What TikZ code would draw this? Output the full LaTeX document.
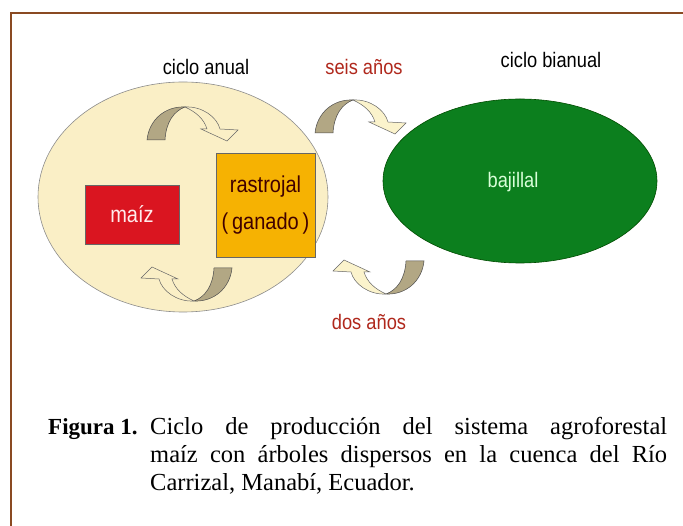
\documentclass[tikz,border=0pt]{standalone}
\usepackage{fontspec}
\setmainfont{Liberation Serif}
\setsansfont{Liberation Sans}
\newfontfamily\estrecha[FakeStretch=0.87]{Liberation Sans}
\definecolor{marco}{HTML}{8A4A22}
\definecolor{anual}{HTML}{FAEFC6}
\definecolor{crema}{HTML}{FBF3CC}
\definecolor{pardo}{HTML}{B2A784}
\definecolor{monte}{HTML}{0C7F1E}
\definecolor{maizrojo}{HTML}{DA1520}
\definecolor{rastrojo}{HTML}{F6B202}
\definecolor{rotulo}{HTML}{B0281C}
\begin{document}
\begin{tikzpicture}[x=1pt, y=-1pt,
  rotul/.style={font=\estrecha\fontsize{21}{24}\selectfont, inner sep=0pt},
  cajon/.style={draw=black!60, line width=0.4pt, inner sep=0pt, font=\estrecha\fontsize{23}{26}\selectfont},
  pie/.style={anchor=base west, inner sep=0pt, font=\fontsize{24.5}{27}\selectfont},
  tanpart/.style={fill=pardo, draw=black!70, line width=0.5pt},
  litepart/.style={draw=black!60, line width=0.5pt}]
\clip (0,0) rectangle (683,526);
\fill[white] (0,0) rectangle (683,526);
\draw[marco, line width=2pt] (11,530) -- (11,13) -- (690,13);
\pgfmathsetmacro{\anualx}{183}
\pgfmathsetmacro{\anualy}{197}
\fill[anual, draw=black!45, line width=0.6pt] (\anualx,\anualy) ellipse [x radius=145, y radius=115];
\fill[monte, draw=black!70!green, line width=0.6pt] (520,181) ellipse [x radius=137, y radius=82];
\foreach \px/\py/\rot/\lite in {190/125/0/anual, 358/118/0/crema, 189/283/180/anual, 381/276/180/crema}{
  \begin{scope}[shift={(\px,\py)}, rotate=\rot]
  \draw[tanpart] (-43,15) .. controls (-41,-5) and (-25,-19) .. (-5,-18) .. controls (-16,-14) and (-24,-3) .. (-25,15) -- cycle;
  \draw[litepart, fill=\lite] (-5,-18) .. controls (12,-19) and (27,-8) .. (30,4) -- (48,5) -- (37,16) -- (11,4) -- (17,4) .. controls (14,-6) and (6,-13) .. (-5,-18) -- cycle;
  \end{scope}
}
\node (maiz) [cajon, fill=maizrojo, text=red!8, minimum width=94pt, minimum height=59pt] at (132,214.5) {maíz};
\node (rastrojal) [cajon, fill=rastrojo, text=black!75!red, minimum width=99pt, minimum height=104pt, align=center, font=\estrecha\fontsize{23}{37}\selectfont] at (265.5,205) {rastrojal\\(\,ganado\,)};
\node (bajillal) [rotul, text=green!15] at (513,182) {bajillal};
\node (anual) [rotul] at (206,67) {ciclo anual};
\node (bianual) [rotul] at (551,60) {ciclo bianual};
\node (seis) [rotul, text=rotulo] at (364,67) {seis años};
\node (dos) [rotul, text=rotulo] at (369,322) {dos años};
\node (figura) [pie, font=\bfseries\fontsize{23}{27}\selectfont] at (48,435) {Figura 1.};
\node (linea1) [pie] at (150,435) {\makebox[517pt][s]{Ciclo de producción del sistema agroforestal}};
\node (linea2) [pie] at (150,462.5) {\makebox[517pt][s]{maíz con árboles dispersos en la cuenca del Río}};
\node (linea3) [pie] at (150,490) {Carrizal, Manabí, Ecuador.};
\end{tikzpicture}
\end{document}
